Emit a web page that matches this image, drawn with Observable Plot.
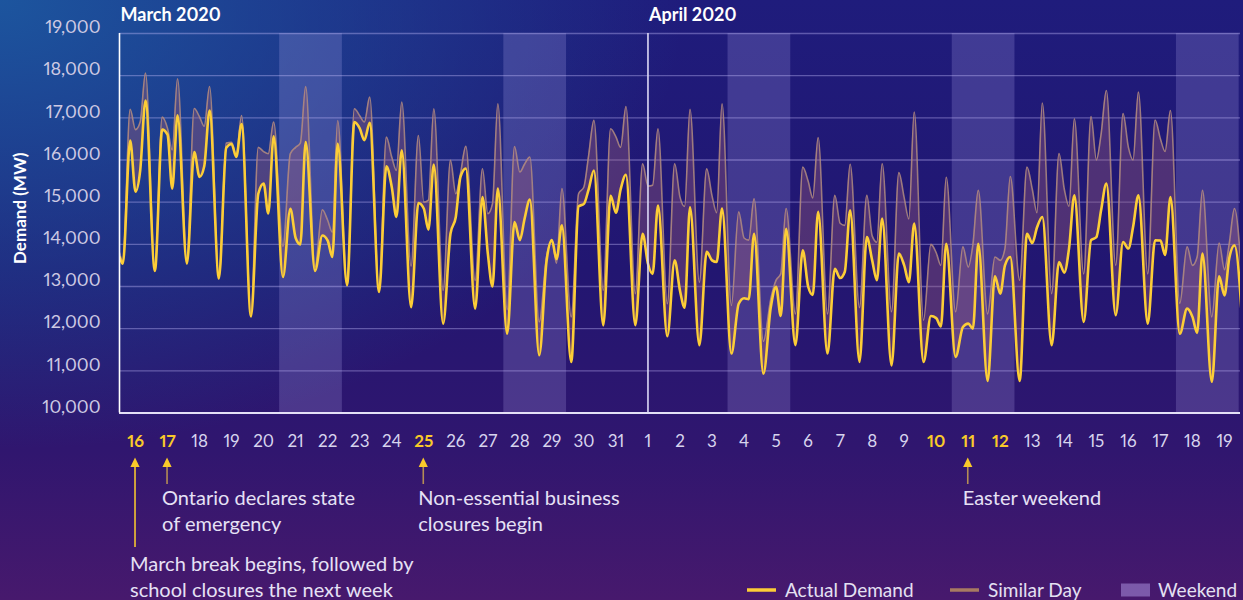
<!DOCTYPE html>
<html>
<head>
<meta charset="utf-8">
<script src="https://cdn.jsdelivr.net/npm/d3@7"></script>
<script src="https://cdn.jsdelivr.net/npm/@observablehq/plot@0.6"></script>
<style>
html, body { margin: 0; padding: 0; width: 1243px; height: 600px; overflow: hidden; }
body {
  background:
    radial-gradient(ellipse 55% 75% at 0% 0%, rgba(28, 88, 160, 0.95) 0%, rgba(28, 88, 160, 0) 100%),
    linear-gradient(180deg, #1f1c7c 0%, #221671 45%, #30166f 75%, #47196d 100%);
  font-family: Lato, "Open Sans", sans-serif;
}
#chart svg text { font-variant-numeric: proportional-nums; }
</style>
</head>
<body>
<div id="chart"></div>
<script>
// ---- Data -----------------------------------------------------------
// Day labels (16 March 2020 .. 19 April 2020)
const dayLabels = ["16","17","18","19","20","21","22","23","24","25","26","27","28","29","30","31",
  "1","2","3","4","5","6","7","8","9","10","11","12","13","14","15","16","17","18","19"];
const highlightDays = [0, 1, 9, 25, 26, 27];          // indices of bold yellow labels
const weekendStartDays = [5, 12, 19, 26, 33];         // Saturdays
const readingHours = [2.5, 8, 12, 15.5, 19.5];        // hour of day of each daily reading

// Ontario demand (MW): [night low, morning, midday, afternoon, evening] per day
const actualDemand = [
  [13540,16460,15250,15750,17410],[13370,16720,16600,15320,17060],[13540,16190,15600,15850,17175],
  [13190,16290,16380,16070,16850],[12290,15200,15440,14730,16560],[13225,14845,14150,14000,16425],
  [13370,14210,14090,13700,16385],[13030,16900,16750,16470,16880],[12870,15850,15360,14650,16230],
  [12510,14980,14850,14350,15895],[12120,14250,14650,15600,15800],[12475,15120,13780,13000,15320],
  [11880,14530,14100,14600,15060],[11370,13600,14100,13650,14450],[11210,14900,14960,15300,15750],
  [12080,15150,14750,15300,15650],[12080,14250,13540,13300,14920],[11820,13620,12900,12500,14880],
  [11610,13820,13620,13580,14850],[11410,12590,12720,12700,14250],[10930,12500,12990,12300,14370],
  [11610,13860,13000,12800,14770],[11410,13420,13200,13350,14805],[11210,14170,13620,13150,14610],
  [11130,13780,13500,13100,14490],[11210,12300,12250,12050,14015],[11330,12040,12120,12000,14015],
  [10760,13240,12830,13500,13700],[10760,14250,14030,14400,14650],[11610,13580,13330,13900,15160],
  [12160,14100,14170,14800,15440],[12320,14055,13900,14410,15160],[12120,14094,14090,13750,15120],
  [11880,12475,12280,11900,13780],[10740,13240,12790,13660,13975]
];
const similarDay = [
  [13600,17200,16720,16900,18060],[13400,17017,16750,16240,17926],[13600,17220,17020,16800,17744],
  [13200,16400,16420,16110,17056],[12350,16300,16200,16150,16900],[13950,16150,16300,16400,17740],
  [13450,14820,14570,14290,16938],[13050,17215,17050,16900,17490],[12900,16543,16069,15753,17372],
  [13480,16580,15000,15050,17214],[12909,15990,15200,15674,16322],[13146,15793,14726,14963,17333],
  [12450,16320,15714,15900,16069],[12160,13700,14090,13550,15320],[12280,15200,15360,16100,16940],
  [12910,16740,16550,16300,17270],[12830,15910,15380,15400,16740],[12590,15910,15120,14900,17200],
  [13100,15790,15150,14750,17330],[12550,14770,14150,14100,15080],[11700,12700,13150,13300,14850],
  [12350,15830,15500,15100,16530],[12350,15160,14500,14450,15900],[12500,15160,14200,14050,15910],
  [12400,15700,15100,14600,17135],[12200,14000,13800,13500,15590],[12400,13940,13460,14000,15280],
  [12350,13700,13620,13900,15610],[13150,15830,15300,14750,17350],[12830,16150,15300,14900,16980],
  [13300,17030,16000,16600,17650],[13500,17100,16300,16000,17610],[13300,16950,16500,16200,17175],
  [12600,13940,13500,13700,15280],[12280,14030,13400,14000,14850]
];
const actualEnds = [13700, 11500];   // value at start (16 Mar 00:00) and after the last day
const similarEnds = [13800, 12300];

const yTicks = [10000, 11000, 12000, 13000, 14000, 15000, 16000, 17000, 18000, 19000];
const months = [{label: "March 2020", day: 0, atMidnight: true}, {label: "April 2020", day: 16, atMidnight: false}];
const notes = [
  {day: 1, lines: ["Ontario declares state", "of emergency"], long: false},
  {day: 9, lines: ["Non-essential business", "closures begin"], long: false},
  {day: 26, lines: ["Easter weekend"], long: false},
  {day: 0, lines: ["March break begins, followed by", "school closures the next week"], long: true}
];
const legendItems = [
  {label: "Actual Demand", kind: "line", color: "#fccd37"},
  {label: "Similar Day", kind: "line", color: "#a87a62"},
  {label: "Weekend", kind: "box", color: "#c8b6ff"}
];

// ---- Build table ----------------------------------------------------
const rows = [{h: 0, actual: actualEnds[0], similar: similarEnds[0]}];
actualDemand.forEach((r, d) => r.forEach((v, k) =>
  rows.push({h: d * 24 + readingHours[k], actual: v, similar: similarDay[d][k]})));
rows.push({h: dayLabels.length * 24 + readingHours[0], actual: actualEnds[1], similar: similarEnds[1]});

const dayCenter = d => d * 24 + 12;
const normalTicks = d3.range(dayLabels.length).filter(d => !highlightDays.includes(d)).map(dayCenter);
const boldTicks = highlightDays.map(dayCenter);
const labelOf = h => dayLabels[Math.round((h - 12) / 24)];
const monthRows = months.map(m => ({label: m.label, h: m.atMidnight ? m.day * 24 : dayCenter(m.day)}));
const aprilHour = monthRows[1].h;

const chart = Plot.plot({
  width: 1243, height: 600,
  marginLeft: 119, marginRight: 3, marginTop: 33, marginBottom: 187.5,
  style: {background: "transparent", fontFamily: "Lato, 'Open Sans', sans-serif", overflow: "visible"},
  x: {type: "linear", domain: [0, dayLabels.length * 24], axis: null},
  y: {domain: [10000, 19000], axis: null},
  marks: [
    Plot.rect(weekendStartDays, {x1: d => d * 24, x2: d => d * 24 + 47, fill: "#c8beff", fillOpacity: 0.2}),
    Plot.gridY(yTicks.slice(1), {stroke: "#c8c0ff", strokeOpacity: 0.38, strokeWidth: 1.4}),
    Plot.areaY(rows, {x: "h", y1: "actual", y2: "similar", curve: "monotone-x", fill: "#9a5c78", fillOpacity: 0.38, clip: true}),
    Plot.line(rows, {x: "h", y: "similar", curve: "monotone-x", stroke: "#b38c80", strokeOpacity: 0.85, strokeWidth: 1.6, clip: true}),
    Plot.line(rows, {x: "h", y: "actual", curve: "monotone-x", stroke: "#fccd37", strokeWidth: 2.6, clip: true}),
    Plot.ruleY([10000], {stroke: "#e4e0f7", strokeWidth: 2}),
    Plot.ruleX([0], {stroke: "#ffffff", strokeWidth: 1.6}),
    Plot.ruleX([aprilHour], {stroke: "#dcd9f5", strokeWidth: 1.6}),
    Plot.axisY(yTicks, {anchor: "left", tickSize: 0, tickPadding: 19, dy: -6, tickFormat: d3.format(","),
      fontSize: 18, fill: "#cdc9e3", label: null}),
    Plot.text(["Demand (MW)"], {frameAnchor: "left", rotate: -90, dx: -99, dy: -15, textAnchor: "middle",
      lineAnchor: "middle", fontWeight: "bold", fontSize: 17, fill: "#ffffff"}),
    Plot.axisX(normalTicks, {anchor: "bottom", tickSize: 0, tickPadding: 22, tickFormat: labelOf,
      fontSize: 17, fill: "#d7d4ee", label: null}),
    Plot.axisX(boldTicks, {anchor: "bottom", tickSize: 0, tickPadding: 22, tickFormat: labelOf,
      fontSize: 17, fontWeight: "bold", fill: "#f9c92a", label: null}),
    Plot.text(monthRows, {x: "h", text: "label", frameAnchor: "top", dy: -18, dx: 1, textAnchor: "start",
      lineAnchor: "middle", fontWeight: "bold", fontSize: 18, fill: "#ffffff"})
  ]
});
document.getElementById("chart").appendChild(chart);

// ---- Annotations & legend (positions from the Plot x scale) ---------
const svg = d3.select(chart);
const xs = chart.scale("x");
const g = svg.append("g").attr("font-family", "Lato, 'Open Sans', sans-serif").attr("text-anchor", "start");
notes.forEach(n => {
  const x = xs.apply(dayCenter(n.day));
  g.append("line").attr("x1", x).attr("x2", x).attr("y1", 465).attr("y2", n.long ? 547 : 484)
    .attr("stroke", n.long ? "#f4c430" : "#b48c55").attr("stroke-width", 1.6);
  g.append("path").attr("d", `M${x},457.5L${x - 4.6},467L${x + 4.6},467Z`).attr("fill", "#f9c92a");
  const y0 = n.long ? 571 : 505;
  n.lines.forEach((t, i) => g.append("text").attr("x", x - 5).attr("y", y0 + i * 26)
    .attr("text-anchor", "start").attr("font-size", 20).attr("fill", "#e6e1f5").text(t));
});
const legendX = [747, 950, 1121];
legendItems.forEach((it, i) => {
  const x = legendX[i];
  if (it.kind === "line") {
    g.append("line").attr("x1", x).attr("x2", x + 29).attr("y1", 590).attr("y2", 590)
      .attr("stroke", it.color).attr("stroke-width", 3.5);
  } else {
    g.append("rect").attr("x", x).attr("y", 583.5).attr("width", 29).attr("height", 13)
      .attr("fill", it.color).attr("fill-opacity", 0.42);
  }
  g.append("text").attr("x", x + (it.kind === "line" ? 38 : 37)).attr("y", 597)
    .attr("text-anchor", "start").attr("font-size", 19).attr("fill", "#e4e0f2").text(it.label);
});
</script>
</body>
</html>
